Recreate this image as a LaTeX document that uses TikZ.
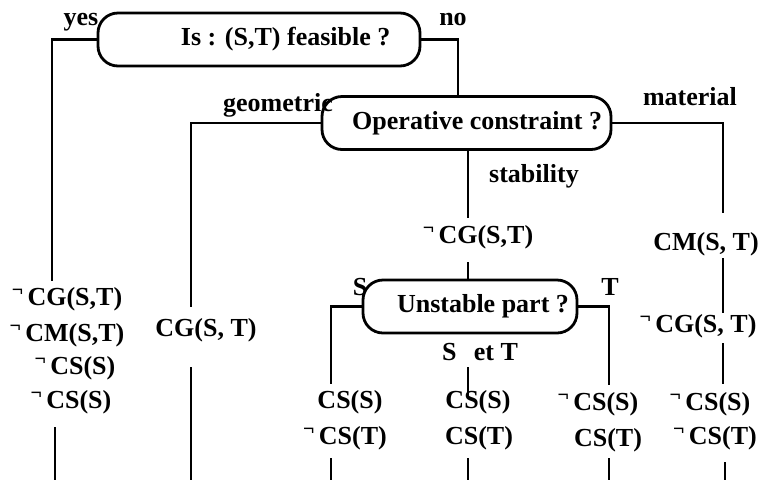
\documentclass[tikz,border=0pt]{standalone}
\usepackage{fontspec}
\setmainfont{Liberation Serif}
\usetikzlibrary{shapes.misc}

% raised negation sign in front of a constraint
\newcommand{\non}{\raisebox{0.32em}{\fontsize{15}{15}\selectfont ¬}\,}

\begin{document}
\begin{tikzpicture}[x=0.75pt,y=0.75pt,yscale=-1,
  every node/.style={font=\fontsize{19.5}{22}\selectfont\bfseries, inner sep=0.75pt},
  query/.style={draw, line width=2.1pt, rounded corners=15pt, minimum width=#1, minimum height=39.75pt, inner sep=0pt},
  branch/.style={line width=2.2pt}]
\useasboundingbox (0,0) rectangle (765,480);

%Shape: Rounded Rect [id:feas]
\node[query=241.5pt] (feas) at (259,39.5) {\hspace*{40pt}Is : (S,T) feasible ?};
%Shape: Rounded Rect [id:opc]
\node[query=216.75pt] (opc) at (466.5,123) {\hspace*{16pt}Operative constraint ?};
%Shape: Rounded Rect [id:ust]
\node[query=160.5pt] (ust) at (470,306.5) {\hspace*{19.5pt}Unstable part ?};

% Text Node
\node[anchor=base] (yes) at (81,25) {yes};
% Text Node
\node[anchor=base] (no) at (453,25) {no};
% Text Node
\node[anchor=base] (geo) at (278,111) {geometric};
% Text Node
\node[anchor=base] (mat) at (690,105) {material};
% Text Node
\node[anchor=base] (stab) at (534,182) {stability};
% Text Node
\node[anchor=base] (sl) at (360,295) {S};
% Text Node
\node[anchor=base] (tl) at (610,295) {T};
% Text Node
\node[anchor=base] (st) at (480,360) {S\hspace{13pt}et T};

% Text Node: yes branch
\node[anchor=base] (ncgA) at (67,305) {\non CG(S,T)};
\node[anchor=base] (ncmA) at (67,341) {\non CM(S,T)};
\node[anchor=base] (ncsA) at (75,374) {\non CS(S)};
\node[anchor=base] (ncsA2) at (71,408) {\non CS(S)};
% Text Node: geometric branch
\node[anchor=base] (cgB) at (206,336) {CG(S, T)};
% Text Node: stability branch
\node[anchor=base] (ncgD) at (478,243) {\non CG(S,T)};
\node[anchor=base] (csC) at (350,408) {CS(S)};
\node[anchor=base] (ncsC) at (345,444) {\non CS(T)};
\node[anchor=base] (csD) at (478,408) {CS(S)};
\node[anchor=base] (csD2) at (479,444) {CS(T)};
\node[anchor=base] (ncsE) at (598,410) {\non CS(S)};
\node[anchor=base] (csE) at (608,446) {CS(T)};
% Text Node: material branch
\node[anchor=base] (cmF) at (706,250) {CM(S, T)};
\node[anchor=base] (ncgF) at (698,332) {\non CG(S, T)};
\node[anchor=base] (ncsF) at (710,410) {\non CS(S)};
\node[anchor=base] (ncsF2) at (715,444) {\non CS(T)};

% line ends
\coordinate (yesfoot) at (52,281);
\coordinate (nodrop) at (458,97);
\coordinate (geofoot) at (191,307);
\coordinate (stabfoot) at (468,218);
\coordinate (matfoot) at (723,213);
\coordinate (ustin) at (468,262);
\coordinate (sfoot) at (331,384);
\coordinate (tfoot) at (609,385);

%Straight Lines
\draw[branch] (feas.west) -| (yesfoot);
\draw[branch] (feas.east) -| (nodrop);
\draw[branch] (opc.west) -| (geofoot);
\draw[branch] (stabfoot |- opc.south) -- (stabfoot);
\draw[branch] (opc.east) -| (matfoot);
\draw[branch] (ustin) -- (ustin |- ust.north);
\draw[branch] (ust.west) -| (sfoot);
\draw[branch] (ust.east) -| (tfoot);

%Straight Lines: short pieces between the texts
\foreach \c/\x/\ya/\yb in {m/468/367/397, f1/723/258/313, f2/723/343/384}
  {\coordinate (top\c) at (\x,\ya); \coordinate (bot\c) at (\x,\yb);
   \draw[branch] (top\c) -- (bot\c);}

%Straight Lines: leads running off the bottom
\foreach \c/\x/\y in {A/55/427, B/191/367, C/331/458, D/468/458, E/609/458, F/725/462}
  {\coordinate (lead\c) at (\x,\y);
   \draw[branch] (lead\c) -- (lead\c |- 0,480);}

\end{tikzpicture}
\end{document}
